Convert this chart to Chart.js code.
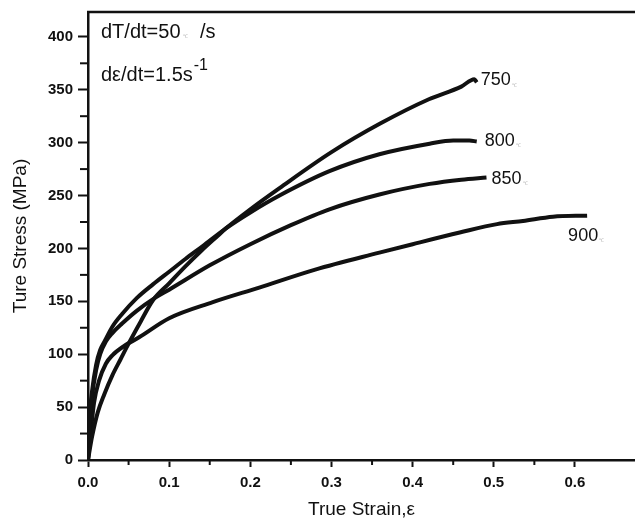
<!DOCTYPE html>
<html>
<head>
<meta charset="utf-8">
<script src="https://cdn.jsdelivr.net/npm/chart.js@4"></script>
<style>
  html, body { margin: 0; padding: 0; background: #fff; }
  #wrap { width: 635px; height: 522px; }
</style>
</head>
<body>
<div id="wrap"><canvas id="graph1" width="635" height="522"></canvas></div>
<script>
// curve data (strain, MPa)
const strain750 = [0, 0.005, 0.012, 0.02, 0.03, 0.04, 0.05, 0.065, 0.08, 0.1, 0.12, 0.14, 0.16, 0.17, 0.2, 0.236, 0.3, 0.36, 0.42, 0.46, 0.476, 0.479];
const stress750 = [0, 22, 45, 62, 80, 95, 110, 131, 151, 167, 183, 198, 212, 219, 237, 257, 291, 318, 341, 353, 360, 357];

const strain800 = [0, 0.002, 0.005, 0.01, 0.015, 0.021, 0.03, 0.042, 0.06, 0.08, 0.1, 0.12, 0.141, 0.17, 0.2, 0.236, 0.2975, 0.359, 0.421, 0.45, 0.47, 0.479];
const stress800 = [0, 40, 65, 90, 104, 113, 126, 138, 153, 166, 178, 190, 202, 219, 234, 250, 273, 289, 299, 302, 302, 301];

const strain850 = [0, 0.002, 0.005, 0.01, 0.015, 0.022, 0.03, 0.042, 0.06, 0.082, 0.1, 0.15, 0.2, 0.25, 0.2975, 0.359, 0.421, 0.46, 0.491];
const stress850 = [0, 35, 60, 85, 100, 112, 120, 129, 141, 153, 161, 184, 204, 222, 237, 251, 261, 265, 267];

const strain900 = [0, 0.0037, 0.0074, 0.0136, 0.022, 0.03, 0.045, 0.063, 0.1, 0.153, 0.211, 0.28, 0.359, 0.4, 0.458, 0.504, 0.536, 0.573, 0.615];
const stress900 = [0, 28, 54, 75, 91, 99, 108, 116, 134, 149, 163, 180, 196, 204, 215, 223, 226, 230, 231];

const curveLabels = ['750', '800', '850', '900'];

const toPts = (xs, ys) => xs.map((x, i) => ({ x: x, y: ys[i] }));

const lineStyle = {
  showLine: true,
  borderColor: '#111',
  borderWidth: 4,
  pointRadius: 0,
  cubicInterpolationMode: 'monotone',
  fill: false
};

// label offsets relative to each curve's last point
const labelOffsets = [[4, -2], [8, -1], [5, 1], [-19, 20]];

const FONT = '"Liberation Sans", Arial, sans-serif';

const extras = {
  id: 'extras',
  afterDraw(chart) {
    const ctx = chart.ctx;
    const area = chart.chartArea;
    const xs = chart.scales.x, ys = chart.scales.y;
    ctx.save();
    // top frame line
    ctx.strokeStyle = '#111';
    ctx.lineWidth = 2.5;
    ctx.beginPath();
    ctx.moveTo(area.left - 1, area.top);
    ctx.lineTo(area.right + 2, area.top);
    ctx.stroke();
    // minor ticks
    ctx.lineWidth = 2;
    xs.ticks.forEach(t => {
      const k = Math.round(t.value * 100);
      if (k % 5 === 0 && k % 10 !== 0) {
        const px = xs.getPixelForValue(t.value);
        ctx.beginPath();
        ctx.moveTo(px, area.bottom);
        ctx.lineTo(px, area.bottom + 5);
        ctx.stroke();
      }
    });
    ys.ticks.forEach(t => {
      if (t.value % 25 === 0 && t.value % 50 !== 0) {
        const py = ys.getPixelForValue(t.value);
        ctx.beginPath();
        ctx.moveTo(area.left, py);
        ctx.lineTo(area.left - 8, py);
        ctx.stroke();
      }
    });
    // annotations
    ctx.fillStyle = '#111';
    ctx.textBaseline = 'alphabetic';
    ctx.font = '20px ' + FONT;
    ctx.fillText('dT/dt=50', 101, 38);
    const w1 = ctx.measureText('dT/dt=50').width;
    ctx.font = '5px ' + FONT;
    ctx.fillStyle = '#aaa';
    ctx.fillText('\u2103', 101 + w1 + 2, 38);
    ctx.fillStyle = '#111';
    ctx.font = '20px ' + FONT;
    ctx.fillText('/s', 200, 38);
    ctx.fillText('d\u03b5/dt=1.5s', 101, 81);
    const w2 = ctx.measureText('d\u03b5/dt=1.5s').width;
    ctx.font = '16px ' + FONT;
    ctx.fillText('-1', 101 + w2 + 1, 70);
    // curve labels
    chart.data.datasets.forEach((ds, i) => {
      const last = ds.data[ds.data.length - 1];
      const px = xs.getPixelForValue(last.x) + labelOffsets[i][0];
      const py = ys.getPixelForValue(last.y) + labelOffsets[i][1];
      ctx.fillStyle = '#111';
      ctx.font = '18px ' + FONT;
      ctx.textBaseline = 'middle';
      ctx.fillText(curveLabels[i], px, py);
      const w = ctx.measureText(curveLabels[i]).width;
      ctx.font = '5px ' + FONT;
      ctx.fillStyle = '#aaa';
      ctx.fillText('\u2103', px + w + 1, py + 5);
    });
    ctx.restore();
  }
};

const tickFont = { family: FONT, size: 15, weight: 'bold' };
const titleFont = { family: FONT, size: 19 };

const config = {
  type: 'scatter',
  data: {
    datasets: [
      Object.assign({ label: '750', data: toPts(strain750, stress750) }, lineStyle),
      Object.assign({ label: '800', data: toPts(strain800, stress800) }, lineStyle),
      Object.assign({ label: '850', data: toPts(strain850, stress850) }, lineStyle),
      Object.assign({ label: '900', data: toPts(strain900, stress900) }, lineStyle)
    ]
  },
  options: {
    responsive: false,
    animation: false,
    layout: { padding: { top: 12, right: 0, left: 0, bottom: 0 } },
    plugins: { legend: { display: false }, tooltip: { enabled: false } },
    scales: {
      x: {
        type: 'linear',
        min: 0,
        max: 0.674,
        border: { display: true, color: '#111', width: 2.5 },
        grid: {
          display: true,
          drawOnChartArea: false,
          tickLength: 7,
          tickWidth: 2,
          tickColor: c => (c.tick && Math.round(c.tick.value * 100) % 10 === 0) ? '#111' : 'rgba(0,0,0,0)'
        },
        ticks: {
          stepSize: 0.05,
          autoSkip: false,
          maxRotation: 0,
          padding: 7,
          color: '#111',
          font: tickFont,
          callback: v => Math.round(v * 100) % 10 === 0 ? v.toFixed(1) : ''
        },
        title: { display: true, text: 'True Strain,\u03b5', color: '#111', font: titleFont, padding: { top: 0, bottom: 1 } },
        afterFit: s => { s.height = 62; s.paddingLeft = 0; s.paddingRight = 0; }
      },
      y: {
        type: 'linear',
        min: 0,
        max: 423.5,
        border: { display: true, color: '#111', width: 2.5 },
        grid: {
          display: true,
          drawOnChartArea: false,
          tickLength: 10,
          tickWidth: 2,
          tickColor: c => (c.tick && c.tick.value % 50 === 0) ? '#111' : 'rgba(0,0,0,0)'
        },
        ticks: {
          stepSize: 25,
          autoSkip: false,
          padding: 5,
          color: '#111',
          font: tickFont,
          callback: v => v % 50 === 0 ? String(v) : ''
        },
        title: { display: true, text: 'Ture Stress (MPa)', color: '#111', font: titleFont, padding: { top: 9, bottom: 0 } },
        afterFit: s => { s.width = 88; s.paddingTop = 0; s.paddingBottom = 0; }
      }
    }
  },
  plugins: [extras]
};

const chart = new Chart(document.getElementById('graph1').getContext('2d'), config);
</script>
</body>
</html>
